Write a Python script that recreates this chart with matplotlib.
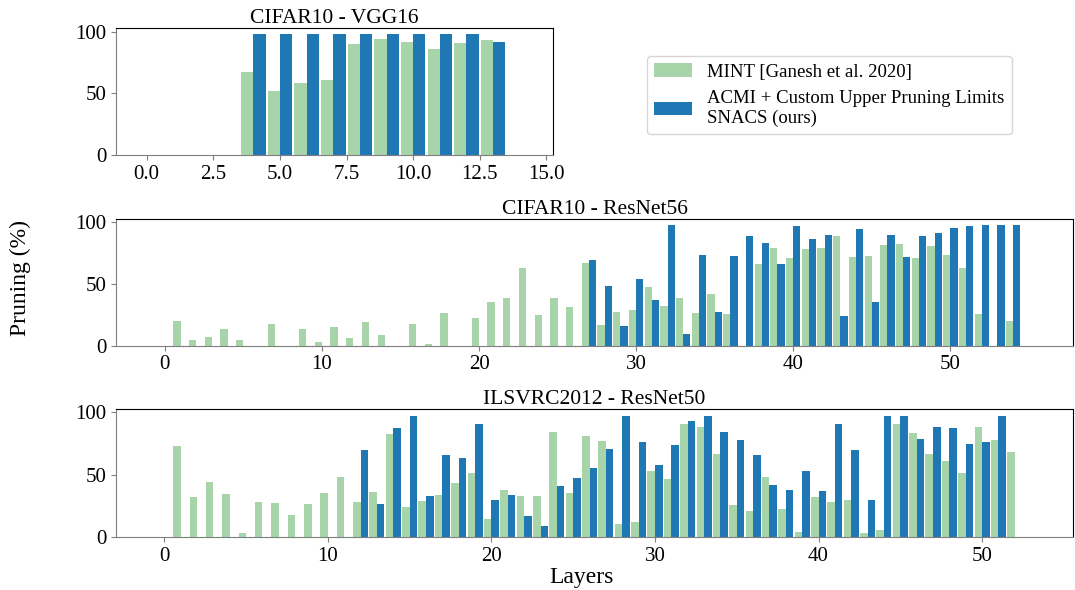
import matplotlib
matplotlib.use("Agg")
import matplotlib.pyplot as plt
import numpy as np

plt.rcParams['font.family'] = ['Liberation Serif', 'DejaVu Serif']
plt.rcParams['font.size'] = 15

# pruning percentages per layer
vgg_mint = [0, 0, 0, 0, 67.5, 52, 58.6, 61, 90, 94, 91.7, 86, 90.9, 93.3, 0]
vgg_snacs = [0, 0, 0, 0, 98.4, 98.4, 98.4, 98.4, 98.4, 98.4, 98.4, 98.4, 98.4, 91.7, 0]

r56_mint = [0, 20, 4.8, 7.2, 13.6, 4.8, 0, 17.6, 0, 13.6, 3.2, 15.2, 6.4, 19.2,
            8.8, 0, 17.6, 1.6, 26.4, 0, 22.4, 35.2, 38.4, 63.2, 24.8, 38.4, 31.2,
            67.2, 16.8, 27.2, 28.8, 47.2, 32, 38.4, 26.4, 41.6, 25.6, 0, 66.4,
            79.2, 71.2, 78.4, 79.2, 88.8, 72, 72.8, 81.6, 82.4, 71.2, 80.8, 73.6,
            63.2, 25.6, 0, 20, 0]
r56_snacs = [0] * 27 + [69.6, 48, 16, 53.6, 36.8, 97.6, 9.6, 73.6, 27.2, 72.8,
                        88.8, 83.2, 66.4, 96.8, 86.4, 89.6, 24, 94.4, 35.2, 89.6,
                        72, 88.8, 91.2, 95.2, 96.8, 97.6, 97.6, 97.6, 0]

r50_mint = [0, 73.1, 32, 44.1, 34.4, 3, 28, 27.2, 17.5, 26.3, 35.2, 48.1, 28, 36,
            82.8, 23.9, 28.8, 33.6, 43.3, 51.3, 14.2, 37.6, 32.8, 32.8, 84.4, 35.2,
            81.2, 77.2, 10.2, 11.8, 53, 46.5, 90.9, 88.4, 66.7, 25.5, 20.7, 48.1,
            22.3, 3.8, 32, 28, 29.6, 3, 5.4, 90.9, 83.6, 66.7, 61, 51.3, 88.4, 78,
            68.3, 0]
r50_snacs = [0] * 12 + [69.9, 26.3, 87.6, 97.3, 32.8, 65.9, 63.4, 90.9, 29.6, 33.6,
                        16.7, 8.6, 40.9, 47.3, 55.4, 70.7, 97.3, 76.3, 57.8, 73.9,
                        93.3, 97.3, 84.4, 78, 65.9, 41.7, 37.6, 53, 36.8, 90.9,
                        69.9, 29.6, 97.3, 97.3, 78.8, 88.4, 87.6, 74.7, 76.3, 97.3,
                        0, 0]

green = '#a8d4a9'
blue = '#1f77b4'
w = 0.46

fig = plt.figure(figsize=(10.75, 5.9), dpi=100)
ax1 = fig.add_axes([0.108, 0.737, 0.4065, 0.216])
ax2 = fig.add_axes([0.108, 0.414, 0.890, 0.215])
ax3 = fig.add_axes([0.108, 0.090, 0.890, 0.216])


def draw(ax, mint, snacs, title, xlim):
    x = np.arange(len(mint))
    ax.bar(x - w / 2, mint, w, color=green, label='MINT [Ganesh et al. 2020]')
    ax.bar(x + w / 2, snacs, w, color=blue,
           label='ACMI + Custom Upper Pruning Limits\nSNACS (ours)')
    ax.set_title(title, fontsize=15.5, pad=3)
    ax.set_yticks([0, 50, 100])
    ax.set_xlim(*xlim)
    for s in ['left', 'bottom']:
        ax.spines[s].set_color('#7f7f7f')
    ax.tick_params(colors='#7f7f7f', labelcolor='black', labelsize=15)


draw(ax1, vgg_mint, vgg_snacs, 'CIFAR10 - VGG16', (-1.15, 15.25))
ax1.set_xticks(np.arange(0, 15.1, 2.5))
draw(ax2, r56_mint, r56_snacs, 'CIFAR10 - ResNet56', (-3.1, 57.8))
draw(ax3, r50_mint, r50_snacs, 'ILSVRC2012 - ResNet50', (-2.95, 55.55))

handles, labels = ax1.get_legend_handles_labels()
fig.legend(handles, labels, loc='upper left', bbox_to_anchor=(0.593, 0.921),
           fontsize=13.5, frameon=True)

fig.text(0.019, 0.529, 'Pruning (%)', rotation=90, ha='center', va='center', fontsize=17)
fig.text(0.541, 0.022, 'Layers', ha='center', va='center', fontsize=17)

fig.savefig('out.png', dpi=100)
